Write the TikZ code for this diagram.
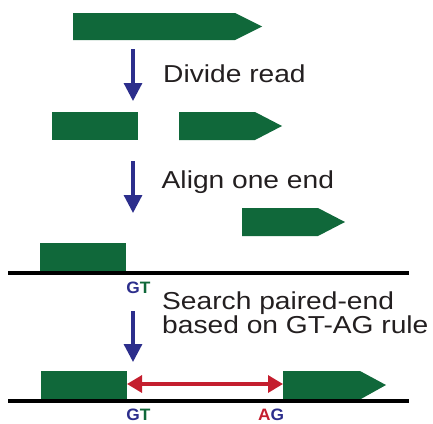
\documentclass[tikz,border=0pt]{standalone}
\usepackage{fontspec}
\setmainfont[FakeStretch=1.15]{Liberation Sans}
\newfontfamily\lblfont[FakeStretch=1.05]{Liberation Sans}
\usetikzlibrary{arrows.meta}
\definecolor{readgreen}{RGB}{16,104,58}
\definecolor{arrblue}{RGB}{44,46,140}
\definecolor{arrred}{RGB}{196,30,46}
\definecolor{txtgray}{RGB}{35,31,32}
\tikzset{
  readbox/.style={fill=readgreen},
  stepArrow/.style={draw=arrblue, line width=3.2pt, -{Triangle[length=18pt,width=18pt]}},
  gapArrow/.style={draw=arrred, line width=3.2pt, {Triangle[length=15pt,width=17pt]}-{Triangle[length=15pt,width=17pt]}},
  steplabel/.style={anchor=base west, inner sep=0pt, text=txtgray, font=\fontsize{24.5}{20}\selectfont, align=left},
  sitelabel/.style={anchor=base, inner sep=0pt, font=\lblfont\bfseries\fontsize{16.5}{17}\selectfont},
  genome/.style={draw=black, line width=4pt},
}
\begin{document}
\begin{tikzpicture}[x=1pt,y=-1pt]
\useasboundingbox (0,0) rectangle (433,423);
% row 1: full read
\fill[readbox] (73,13) -- (235,13) -- (262,26.5) -- (235,40) -- (73,40) -- cycle;
\coordinate (a1s) at (133,49);
\coordinate (a1e) at (133,101);
\draw[stepArrow] (a1s) -- (a1e);
\node[steplabel] (t1) at (163,82.3) {Divide read};
% row 2: divided read
\fill[readbox] (52,112) rectangle (138,140);
\fill[readbox] (179,112) -- (255,112) -- (282,126) -- (255,140) -- (179,140) -- cycle;
\coordinate (a2s) at (133,161);
\coordinate (a2e) at (133,213);
\draw[stepArrow] (a2s) -- (a2e);
\node[steplabel] (t2) at (161.5,188.3) {Align one end};
% row 3
\fill[readbox] (242,208) -- (318,208) -- (345,222) -- (318,236) -- (242,236) -- cycle;
\fill[readbox] (40,243) rectangle (126,271.5);
\coordinate (g1l) at (8,273);
\coordinate (g1r) at (409,273);
\draw[genome] (g1l) -- (g1r);
\node[sitelabel] (gt1) at (138.5,293.3) {\textcolor{arrblue}{G}\textcolor{readgreen}{T}};
% row 4
\coordinate (a3s) at (133,311);
\coordinate (a3e) at (133,362);
\draw[stepArrow] (a3s) -- (a3e);
\node[steplabel] (t3) at (162,333.3) {Search paired-end\\based on GT-AG rule};
\fill[readbox] (41,371) rectangle (127,399.5);
\fill[readbox] (283,371) -- (360,371) -- (386,385) -- (360,399.5) -- (283,399.5) -- cycle;
\coordinate (g2l) at (8,401);
\coordinate (g2r) at (409,401);
\draw[genome] (g2l) -- (g2r);
\coordinate (ra) at (127,384);
\coordinate (rb) at (283,384);
\draw[gapArrow] (ra) -- (rb);
\node[sitelabel] (gt2) at (138.5,420.5) {\textcolor{arrblue}{G}\textcolor{readgreen}{T}};
\node[sitelabel] (ag2) at (271,420.5) {\textcolor{arrred}{A}\textcolor{arrblue}{G}};
\end{tikzpicture}
\end{document}
